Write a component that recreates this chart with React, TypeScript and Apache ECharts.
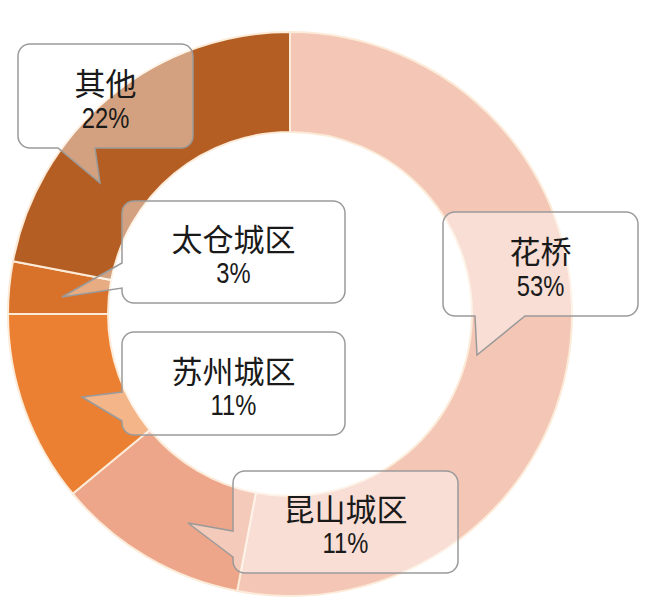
import { useEffect, useRef } from 'react';
import * as echarts from 'echarts';

const regions = ['花桥', '昆山城区', '苏州城区', '太仓城区', '其他'];
const shares = [53, 11, 11, 3, 22];
const sliceColors = ['#F3C6B6', '#EDA68A', '#EC8032', '#D8712A', '#B45E23'];

// callout boxes (page px) in the same order as regions
type Callout = {
  x: number; y: number; w: number; h: number;
  side: 'bottom' | 'left'; a: number; b: number; tip: [number, number];
};
const callouts: Callout[] = [
  { x: 443, y: 212, w: 195, h: 104, side: 'bottom', a: 475, b: 525, tip: [477, 355] },
  { x: 233, y: 471, w: 225, h: 102, side: 'left', a: 531, b: 557, tip: [188, 523] },
  { x: 122, y: 332, w: 223, h: 103, side: 'left', a: 392, b: 421, tip: [82, 397] },
  { x: 122, y: 201, w: 223, h: 102, side: 'left', a: 263, b: 288, tip: [62, 297] },
  { x: 18, y: 44, w: 175, h: 104, side: 'bottom', a: 58, b: 95, tip: [100, 183] },
];

function calloutPath(c: Callout, r = 12) {
  const { x, y, w, h } = c;
  let d = `M${x + r} ${y} H${x + w - r} A${r} ${r} 0 0 1 ${x + w} ${y + r} V${y + h - r} A${r} ${r} 0 0 1 ${x + w - r} ${y + h}`;
  if (c.side === 'bottom') d += ` H${c.b} L${c.tip[0]} ${c.tip[1]} L${c.a} ${y + h}`;
  d += ` H${x + r} A${r} ${r} 0 0 1 ${x} ${y + h - r}`;
  if (c.side === 'left') d += ` V${c.b} L${c.tip[0]} ${c.tip[1]} L${x} ${c.a}`;
  d += ` V${y + r} A${r} ${r} 0 0 1 ${x + r} ${y} Z`;
  return d;
}

callouts.forEach((c, i) => {
  echarts.graphic.registerShape('callout' + i, echarts.graphic.extendPath(calloutPath(c), {}));
});

export default function App() {
  const ref = useRef<HTMLDivElement | null>(null);

  useEffect(() => {
    if (!ref.current) return;
    const chart = echarts.init(ref.current, undefined, { renderer: 'svg' });
    const graphics: any[] = [];
    callouts.forEach((c, i) => {
      graphics.push({
        type: 'callout' + i,
        x: 0,
        y: 0,
        scaleX: 1,
        scaleY: 1,
        z: 10,
        style: { fill: 'rgba(255,255,255,0.42)', stroke: '#9a9a9a', lineWidth: 1.5 },
      });
      const cx = c.x + c.w / 2;
      graphics.push({
        type: 'text',
        z: 11,
        x: cx,
        y: c.y + c.h * 0.36,
        style: {
          text: regions[i],
          fill: '#1a1a1a',
          font: '31px "Noto Sans CJK SC", sans-serif',
          align: 'center',
          verticalAlign: 'middle',
        },
      });
      // narrow digits like the original
      graphics.push({
        type: 'text',
        z: 11,
        x: cx,
        y: c.y + c.h * 0.71,
        scaleX: 0.82,
        style: {
          text: shares[i] + '%',
          fill: '#1a1a1a',
          font: '29px "Liberation Sans", sans-serif',
          align: 'center',
          verticalAlign: 'middle',
        },
      });
    });

    chart.setOption({
      animation: false,
      backgroundColor: '#ffffff',
      series: [
        {
          type: 'pie',
          center: [290, 314],
          radius: [182, 282],
          startAngle: 90,
          clockwise: true,
          label: { show: false },
          labelLine: { show: false },
          emphasis: { disabled: true },
          itemStyle: { borderColor: '#FCEBD8', borderWidth: 2 },
          data: regions.map((name, i) => ({
            name,
            value: shares[i],
            itemStyle: { color: sliceColors[i] },
          })),
        },
      ],
      graphic: graphics,
    });
    return () => chart.dispose();
  }, []);

  return (
    <div
      ref={ref}
      style={{ position: 'fixed', left: 0, top: 0, width: 651, height: 614 }}
    />
  );
}
